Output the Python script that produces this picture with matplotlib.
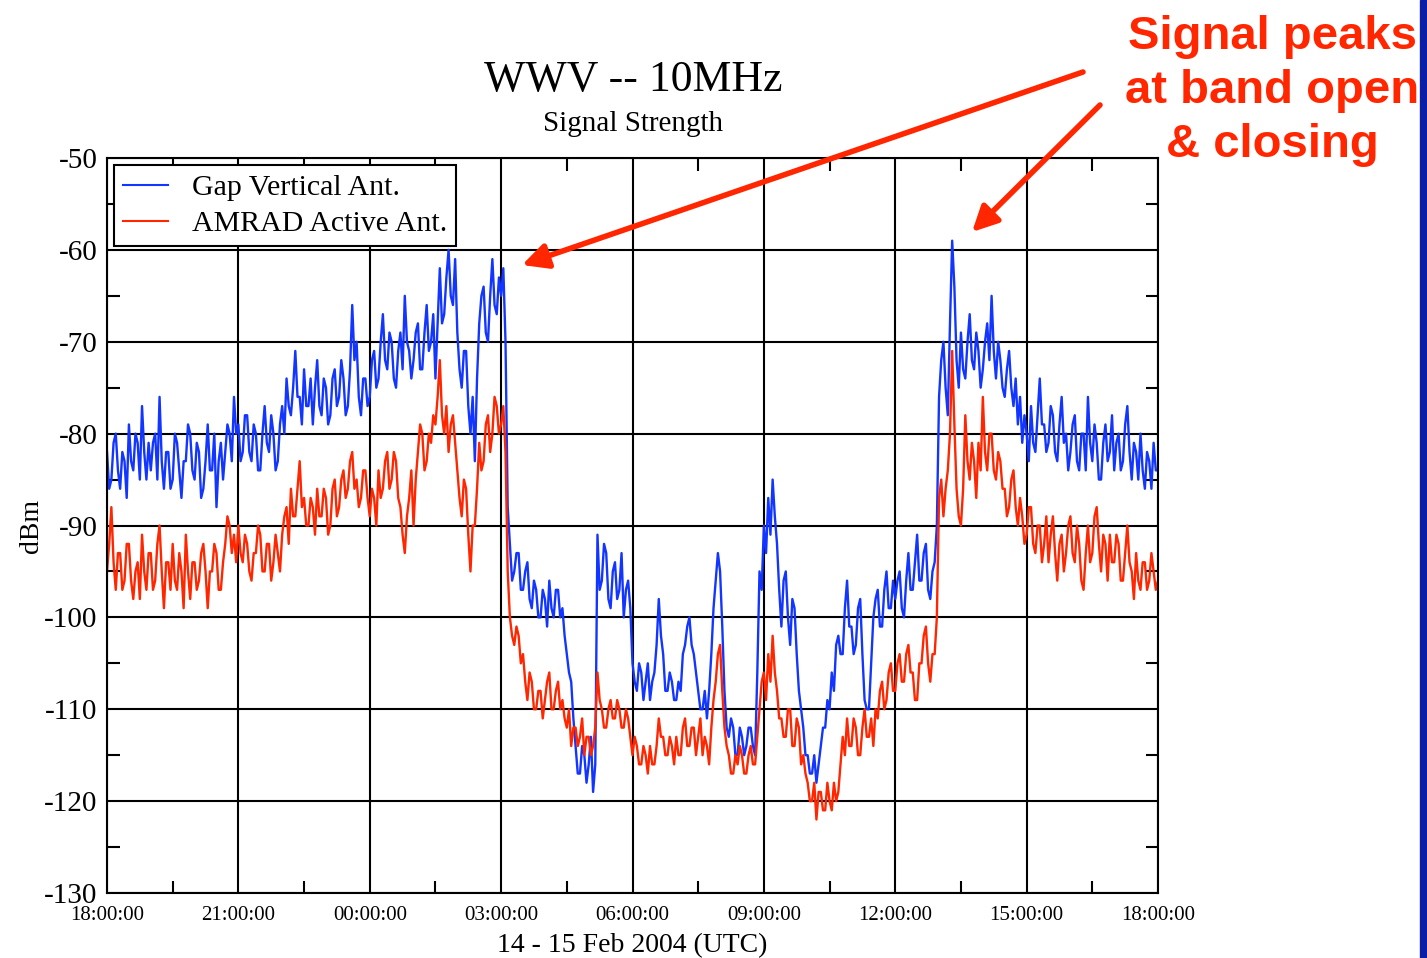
import matplotlib
matplotlib.use('Agg')
import matplotlib.pyplot as plt
import numpy as np

plt.rcParams['font.family'] = ['Liberation Serif', 'DejaVu Serif']

# 时间轴：从 14 Feb 18:00 起的小时数，每 3 分钟一个点
hours = np.linspace(0, 24, 481)

# Gap Vertical Ant. (dBm)，每行一小时，20 个点
gap_vertical = [
    -82, -86, -85, -81, -80, -84, -86, -82, -83, -87, -79, -83, -84, -80, -81, -85, -77, -82, -85, -81,
    -84, -81, -80, -85, -76, -83, -86, -82, -82, -86, -85, -80, -81, -84, -87, -83, -83, -79, -80, -84,
    -85, -81, -82, -87, -86, -83, -79, -84, -84, -80, -88, -83, -81, -85, -82, -79, -80, -83, -76, -80,
    -79, -83, -82, -78, -78, -82, -83, -79, -80, -84, -84, -80, -77, -81, -82, -78, -80, -84, -83, -79,
    -77, -80, -74, -77, -78, -75, -71, -76, -76, -79, -73, -77, -77, -74, -79, -75, -72, -77, -78, -74,
    -75, -79, -78, -74, -73, -77, -76, -72, -74, -78, -77, -73, -66, -72, -70, -76, -78, -74, -74, -77,
    -76, -72, -71, -75, -74, -70, -67, -72, -73, -69, -70, -74, -75, -71, -69, -73, -65, -70, -71, -74,
    -72, -69, -68, -73, -73, -69, -66, -71, -70, -67, -74, -68, -62, -68, -67, -63, -60, -65, -66, -61,
    -69, -73, -75, -71, -71, -77, -80, -76, -83, -74, -68, -65, -64, -69, -70, -65, -61, -66, -67, -63,
    -65, -62, -70, -88, -92, -96, -95, -93, -93, -97, -97, -95, -94, -98, -99, -96, -97, -100, -100, -97,
    -98, -101, -96, -99, -100, -97, -97, -100, -99, -102, -104, -106, -107, -111, -114, -117, -117, -114, -115, -118,
    -116, -113, -119, -116, -91, -97, -96, -92, -93, -98, -99, -95, -94, -98, -97, -93, -100, -97, -96, -99,
    -105, -107, -108, -105, -106, -109, -107, -105, -109, -107, -106, -103, -98, -102, -104, -108, -108, -106, -107, -109,
    -109, -107, -108, -104, -103, -101, -100, -103, -104, -106, -108, -110, -110, -108, -111, -108, -104, -99, -96, -93,
    -95, -101, -108, -112, -113, -111, -112, -115, -115, -112, -113, -115, -114, -112, -112, -114, -115, -106, -95, -97,
    -90, -93, -87, -91, -85, -89, -92, -97, -101, -96, -95, -100, -103, -98, -99, -104, -108, -110, -112, -115,
    -115, -117, -117, -115, -118, -116, -114, -112, -112, -109, -110, -106, -108, -103, -102, -104, -104, -99, -96, -101,
    -101, -104, -103, -99, -98, -104, -109, -110, -110, -105, -100, -98, -97, -101, -101, -97, -95, -99, -99, -96,
    -98, -96, -95, -99, -100, -96, -93, -97, -97, -94, -91, -96, -96, -93, -92, -97, -98, -95, -94, -90,
    -76, -72, -70, -75, -78, -68, -59, -64, -72, -75, -69, -73, -74, -70, -67, -72, -73, -69, -71, -75,
    -73, -70, -68, -72, -65, -71, -74, -70, -72, -75, -76, -73, -71, -75, -77, -74, -79, -76, -81, -78,
    -80, -83, -77, -81, -82, -78, -74, -79, -79, -82, -81, -77, -78, -82, -83, -79, -76, -81, -80, -84,
    -82, -79, -78, -83, -84, -80, -80, -84, -76, -81, -83, -79, -81, -85, -85, -81, -79, -83, -82, -78,
    -84, -81, -80, -84, -83, -79, -77, -82, -85, -81, -82, -85, -80, -84, -86, -82, -83, -86, -81, -84,
    -84,
]

# AMRAD Active Ant. (dBm)
amrad_active = [
    -95, -92, -88, -94, -97, -93, -93, -97, -96, -92, -92, -96, -98, -95, -94, -98, -91, -95, -97, -93,
    -93, -97, -96, -92, -90, -95, -99, -94, -94, -97, -92, -96, -97, -93, -95, -99, -91, -95, -98, -94,
    -94, -97, -96, -93, -92, -95, -99, -95, -95, -92, -93, -97, -97, -94, -92, -89, -90, -93, -91, -94,
    -90, -93, -94, -91, -92, -95, -96, -93, -93, -90, -91, -95, -95, -92, -92, -96, -94, -91, -93, -95,
    -91, -89, -88, -92, -86, -89, -89, -86, -83, -88, -87, -90, -90, -87, -88, -91, -86, -89, -89, -86,
    -87, -91, -90, -86, -85, -89, -88, -85, -84, -87, -86, -83, -82, -86, -85, -88, -87, -84, -84, -87,
    -89, -86, -87, -90, -84, -87, -86, -83, -82, -86, -85, -82, -83, -87, -88, -91, -93, -89, -87, -84,
    -90, -85, -82, -79, -80, -84, -83, -80, -81, -78, -79, -76, -72, -78, -80, -77, -82, -79, -78, -81,
    -84, -87, -89, -85, -86, -91, -95, -90, -90, -86, -81, -84, -83, -79, -78, -82, -80, -76, -77, -80,
    -79, -77, -82, -95, -100, -102, -103, -101, -102, -105, -104, -107, -109, -106, -107, -110, -110, -108, -108, -111,
    -109, -107, -106, -110, -110, -108, -107, -110, -109, -111, -112, -110, -114, -112, -112, -114, -113, -111, -115, -113,
    -113, -115, -114, -112, -106, -109, -110, -112, -112, -110, -109, -111, -111, -109, -110, -112, -112, -110, -111, -113,
    -115, -113, -114, -116, -116, -114, -115, -117, -114, -116, -116, -114, -111, -113, -113, -115, -115, -113, -114, -116,
    -113, -115, -115, -112, -111, -114, -114, -112, -112, -115, -113, -111, -115, -113, -114, -116, -112, -109, -107, -104,
    -103, -108, -112, -114, -115, -117, -117, -115, -116, -114, -115, -117, -117, -115, -114, -116, -116, -113, -110, -107,
    -106, -109, -104, -107, -102, -106, -108, -111, -111, -113, -113, -110, -110, -114, -114, -111, -112, -116, -115, -117,
    -118, -120, -120, -118, -122, -119, -119, -121, -121, -118, -120, -121, -118, -120, -119, -116, -113, -115, -111, -114,
    -114, -111, -112, -115, -115, -112, -110, -113, -113, -111, -114, -110, -111, -108, -107, -110, -109, -106, -105, -108,
    -108, -105, -104, -107, -107, -104, -103, -106, -106, -109, -109, -105, -105, -102, -101, -105, -107, -104, -104, -100,
    -87, -85, -89, -86, -84, -80, -71, -79, -86, -89, -90, -86, -78, -83, -85, -81, -83, -87, -81, -84,
    -76, -82, -84, -80, -80, -84, -85, -82, -83, -86, -86, -89, -88, -85, -84, -88, -90, -87, -89, -92,
    -91, -88, -88, -92, -93, -90, -90, -94, -92, -89, -94, -91, -89, -93, -96, -92, -91, -95, -93, -90,
    -89, -93, -94, -90, -92, -96, -97, -93, -90, -94, -93, -89, -88, -92, -95, -91, -92, -96, -91, -94,
    -94, -91, -92, -96, -96, -93, -90, -94, -95, -98, -93, -96, -97, -94, -94, -97, -96, -93, -95, -97,
    -96,
]

x_tick_pos = [0, 3, 6, 9, 12, 15, 18, 21, 24]
x_tick_labels = ['18:00:00', '21:00:00', '00:00:00', '03:00:00', '06:00:00',
                 '09:00:00', '12:00:00', '15:00:00', '18:00:00']
y_ticks = [-130, -120, -110, -100, -90, -80, -70, -60, -50]

blue = '#1236ff'
red = '#ff2600'

fig = plt.figure(figsize=(14.27, 9.58), dpi=100)
ax = fig.add_axes([107/1427, 1-893/958, (1158-107)/1427, (893-158)/958])

# 网格和边框
ax.grid(True, which='major', color='black', linewidth=1.5, linestyle='-')
ax.set_axisbelow(True)
for s in ax.spines.values():
    s.set_linewidth(1.5)
    s.set_color('black')

A, = ax.plot(hours, gap_vertical, color=blue, linewidth=1.7, label='Gap Vertical Ant.')
B, = ax.plot(hours, amrad_active, color=red, linewidth=1.7, label='AMRAD Active Ant.')

ax.set_xlim(0, 24)
ax.set_ylim(-130, -50)
ax.set_xticks(x_tick_pos)
ax.set_xticklabels(x_tick_labels, fontsize=15)
ax.set_xticks(np.arange(1.5, 24, 3), minor=True)
ax.set_yticks(y_ticks)
ax.set_yticklabels([str(v) for v in y_ticks], fontsize=21)
ax.set_yticks(np.arange(-125, -50, 10), minor=True)
ax.tick_params(which='major', length=0, pad=7)
ax.tick_params(axis='x', which='major', pad=9)
ax.tick_params(which='minor', direction='in', length=9, width=1.5,
               top=True, right=True, bottom=True, left=True)

ax.set_xlabel('14 - 15 Feb 2004 (UTC)', fontsize=20, labelpad=6)
ax.set_ylabel('dBm', fontsize=20, labelpad=0)

leg = ax.legend(handles=[A, B], loc='upper left', fontsize=21.5, frameon=True,
                fancybox=False, edgecolor='black', framealpha=1,
                handlelength=1.5, borderaxespad=0.25, borderpad=0.3,
                labelspacing=0.3, handletextpad=0.8)
leg.get_frame().set_linewidth(1.5)
for h in leg.get_lines():
    h.set_linewidth(1.5)

# 标题
fig.text(633/1427, 1-80/958, 'WWV -- 10MHz', fontsize=31.5, ha='center', va='center')
fig.text(633/1427, 1-124/958, 'Signal Strength', fontsize=21, ha='center', va='center')

# 注释文字和箭头
fig.text(1272/1427, 1-91/958, 'Signal peaks\nat band open\n& closing', color=red,
         fontsize=34, fontweight='bold', family=['Liberation Sans', 'DejaVu Sans'],
         ha='center', va='center', linespacing=1.3)
arrow = dict(arrowstyle='-|>', color=red, lw=4, mutation_scale=38, shrinkA=0, shrinkB=0)
fig.add_artist(matplotlib.patches.FancyArrowPatch(
    (1083/1427, 1-72/958), (522/1427, 1-265/958), transform=fig.transFigure, **arrow))
fig.add_artist(matplotlib.patches.FancyArrowPatch(
    (1100/1427, 1-105/958), (972/1427, 1-232/958), transform=fig.transFigure, **arrow))

# 右侧蓝色边条
fig.add_artist(matplotlib.patches.Rectangle((1420/1427, 0), 7/1427, 1,
               transform=fig.transFigure, color='#0b1fa6', zorder=10))

plt.savefig('out.png', dpi=100)
